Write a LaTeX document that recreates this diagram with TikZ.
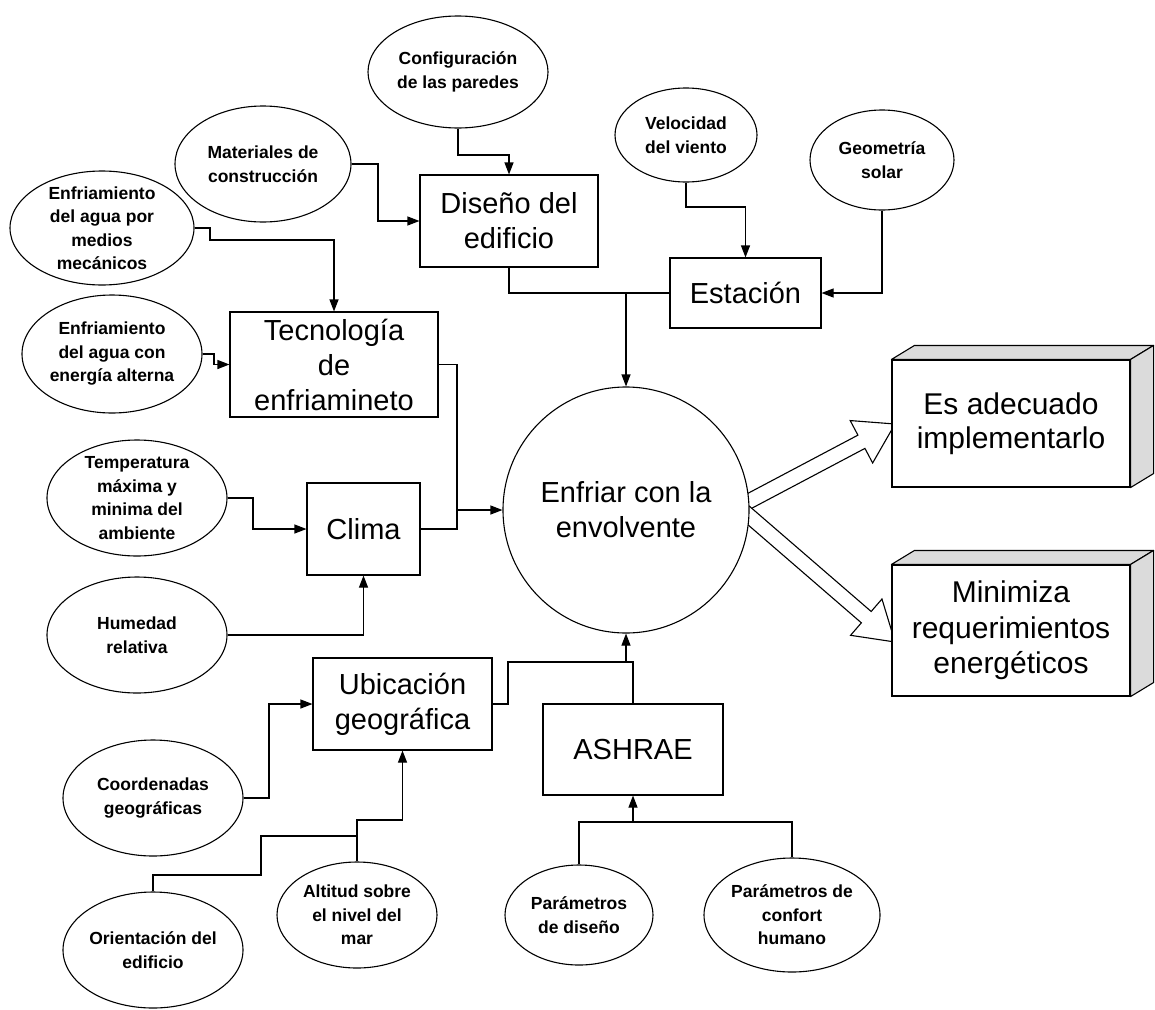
\documentclass[tikz,border=0pt]{standalone}
\usepackage{fontspec}
\setmainfont{Liberation Sans}
\usetikzlibrary{shapes.geometric,arrows.meta,calc}
\begin{document}
\begin{tikzpicture}[x=1pt,y=-1pt,
  every node/.style={inner sep=0pt},
  ln/.style={line width=1.1pt},
  arr/.style={ln,-{Triangle[length=12pt,width=9pt]}},
  sm/.style={ellipse,draw,line width=1.1pt,fill=white},
  smtxt/.style={align=center,font=\fontsize{17.5}{23.5}\selectfont\bfseries},
  bx/.style={rectangle,draw,line width=1.1pt,fill=white,align=center,font=\fontsize{29}{35}\selectfont},
  face/.style={draw,line width=1.1pt,fill=gray!28,line join=round},
  hol/.style={draw,line width=1.1pt,fill=white,line join=miter}
]
\useasboundingbox (0,0) rectangle (1155,1009);

% hollow arrows (drawn first, covered by circle and boxes)
\coordinate (ua) at (740,506);
\coordinate (ub) at (895,424);
\coordinate (uh) at ($(ub)!38pt!(ua)$);
\draw[hol] ($(ua)!7.5pt!90:(ub)$) -- ($(uh)!7.5pt!90:(ub)$) -- ($(uh)!24pt!90:(ub)$) -- (ub)
  -- ($(uh)!24pt!-90:(ub)$) -- ($(uh)!7.5pt!-90:(ub)$) -- ($(ua)!7.5pt!-90:(ub)$) -- cycle;
\coordinate (la) at (740,508);
\coordinate (lb) at (895,642);
\coordinate (lh) at ($(lb)!38pt!(la)$);
\draw[hol] ($(la)!7.5pt!90:(lb)$) -- ($(lh)!7.5pt!90:(lb)$) -- ($(lh)!24pt!90:(lb)$) -- (lb)
  -- ($(lh)!24pt!-90:(lb)$) -- ($(lh)!7.5pt!-90:(lb)$) -- ($(la)!7.5pt!-90:(lb)$) -- cycle;

% central circle
\node[circle,draw,line width=1.1pt,fill=white,minimum size=246pt,align=center,
  font=\fontsize{29}{35}\selectfont] (circ) at (626,510) {Enfriar con la\\envolvente};

% boxes
\node[bx,minimum width=178pt,minimum height=92pt] (dis) at (509,221) {Diseño del\\edificio};
\node[bx,minimum width=151pt,minimum height=70pt] (est) at (745.5,293) {Estación};
\node[bx,minimum width=208pt,minimum height=105pt] (tec) at (334,364.5) {Tecnología\\de\\enfriamineto};
\node[bx,minimum width=113pt,minimum height=92pt] (cli) at (363.5,529) {Clima};
\node[bx,minimum width=179pt,minimum height=92pt] (ubi) at (402.5,704) {Ubicación\\geográfica};
\node[bx,minimum width=180pt,minimum height=91pt] (ash) at (633,749.5) {ASHRAE};

% 3D result boxes
\node[bx,minimum width=238pt,minimum height=127pt,font=\fontsize{30}{34}\selectfont] (res1) at (1011,423.5) {Es adecuado\\implementarlo};
\draw[face] (res1.north west) -- ++(23,-14) -- ([shift={(23,-14)}]res1.north east) -- (res1.north east) -- cycle;
\draw[face] (res1.north east) -- ++(23,-14) -- ([shift={(23,-14)}]res1.south east) -- (res1.south east) -- cycle;
\node[bx,minimum width=238pt,minimum height=131pt,font=\fontsize{30}{35.5}\selectfont] (res2) at (1011,630.5) {Minimiza\\requerimientos\\energéticos};
\draw[face] (res2.north west) -- ++(23,-14) -- ([shift={(23,-14)}]res2.north east) -- (res2.north east) -- cycle;
\draw[face] (res2.north east) -- ++(23,-14) -- ([shift={(23,-14)}]res2.south east) -- (res2.south east) -- cycle;

% ellipses
\node[sm,minimum width=180pt,minimum height=112pt,label={[smtxt]center:{Configuración\\de las paredes}}] (conf) at (458,72) {};
\node[sm,minimum width=176pt,minimum height=116pt,label={[smtxt]center:{Materiales de\\construcción}}] (mat) at (263,164) {};
\node[sm,minimum width=184pt,minimum height=114pt,label={[smtxt]center:{Enfriamiento\\del agua por\\medios\\mecánicos}}] (mec) at (102,228) {};
\node[sm,minimum width=180pt,minimum height=118pt,label={[smtxt]center:{Enfriamiento\\del agua con\\energía alterna}}] (alt) at (112,354) {};
\node[sm,minimum width=180pt,minimum height=116pt,label={[smtxt]center:{Temperatura\\máxima y\\minima del\\ambiente}}] (temp) at (137,498) {};
\node[sm,minimum width=180pt,minimum height=116pt,label={[smtxt]center:{Humedad\\relativa}}] (hum) at (137,635) {};
\node[sm,minimum width=180pt,minimum height=116pt,label={[smtxt]center:{Coordenadas\\geográficas}}] (coord) at (153,798) {};
\node[sm,minimum width=180pt,minimum height=116pt,label={[smtxt]center:{Orientación del\\edificio}}] (orient) at (153,950) {};
\node[sm,minimum width=160pt,minimum height=106pt,label={[smtxt]center:{Altitud sobre\\el nivel del\\mar}}] (alti) at (357,915) {};
\node[sm,minimum width=142pt,minimum height=94pt,label={[smtxt]center:{Velocidad\\del viento}}] (vel) at (686,135) {};
\node[sm,minimum width=144pt,minimum height=100pt,label={[smtxt]center:{Geometría\\solar}}] (geo) at (882,160) {};
\node[sm,minimum width=148pt,minimum height=100pt,label={[smtxt]center:{Parámetros\\de diseño}}] (pdis) at (579,915) {};
\node[sm,minimum width=176pt,minimum height=114pt,label={[smtxt]center:{Parámetros de\\confort\\humano}}] (pconf) at (792,915) {};

% junction points
\coordinate (jc) at (457,510);
\coordinate (ja) at (357,836);
\coordinate (jb) at (626,662);
\coordinate (jd) at (633,822);
\coordinate (je) at (626,293);

% connectors
\draw[arr] (conf.south) |- (509,155) -- (dis.north);
\draw[arr] (mat.east) -| (378,221) -- (dis.west);
\draw[arr] (mec.east) -| (210,240) -| (tec.north);
\draw[arr] (alt.east) -| (214,364.5) -- (tec.west);
\draw[arr] (tec.east) -| (jc) -- (circ.west);
\draw[ln] (cli.east) -| (jc);
\draw[arr] (temp.east) -| (253,529) -- (cli.west);
\draw[arr] (hum.east) -| (cli.south);
\draw[arr] (coord.east) -| (269,704) -- (ubi.west);
\draw[arr] (alti.north) |- (402.5,820) -- (ubi.south);
\draw[ln] (orient.north) |- (261,875) |- (ja);
\draw[arr] (ubi.east) -| (508,662) -- (jb) -- (circ.south);
\draw[ln] (ash.north) |- (jb);
\draw[arr] (pdis.north) |- (jd) -- (ash.south);
\draw[ln] (pconf.north) |- (jd);
\draw[ln] (dis.south) |- (est.west);
\draw[arr] (je) -- (circ.north);
\draw[arr] (vel.south) |- (745.5,207) -- (est.north);
\draw[arr] (geo.south) |- (est.east);
\end{tikzpicture}
\end{document}
